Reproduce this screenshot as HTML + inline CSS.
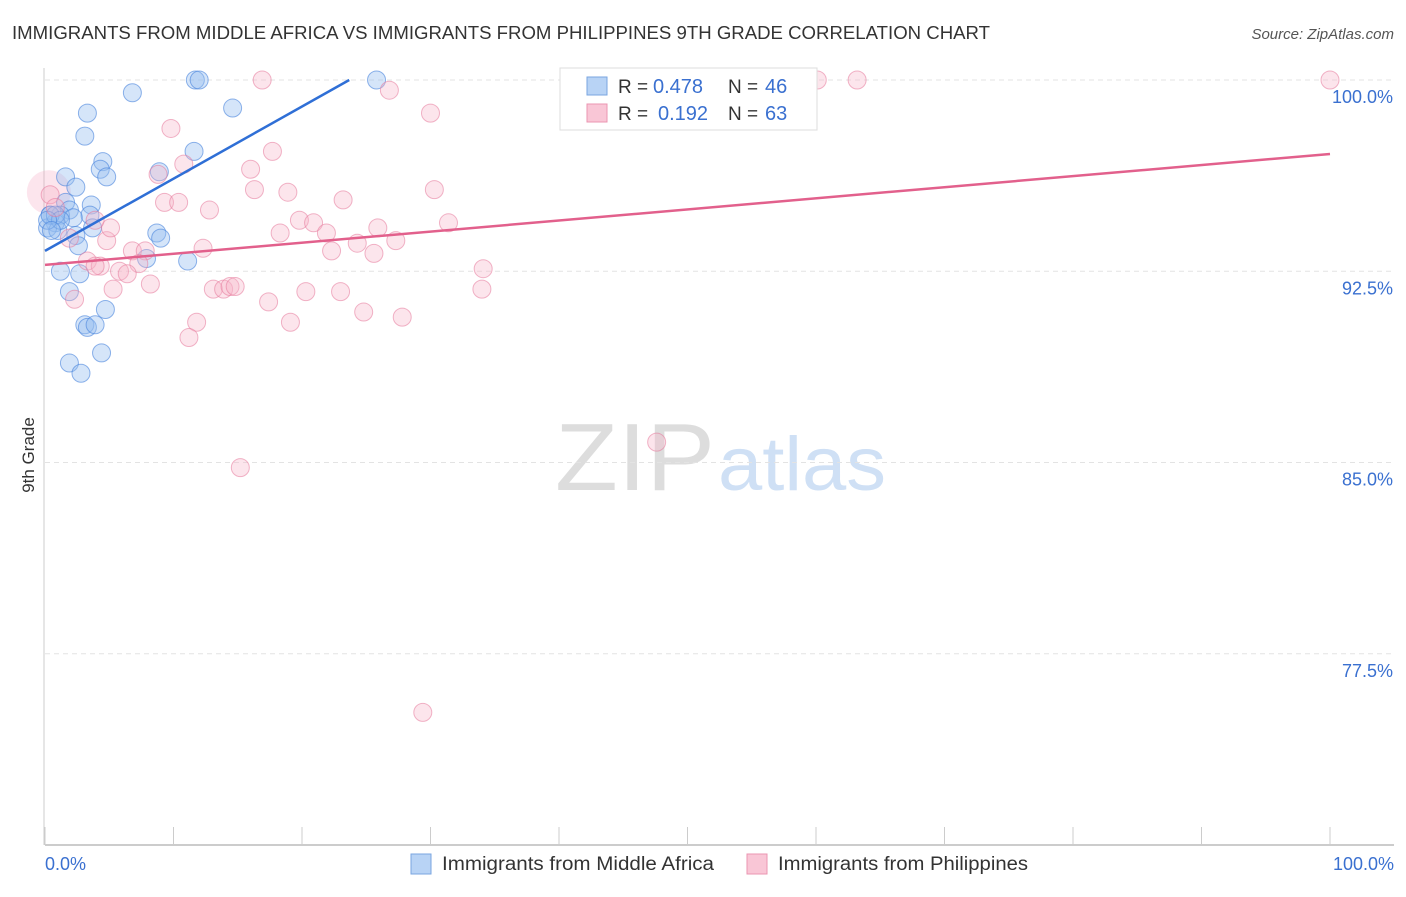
<!DOCTYPE html>
<html><head><meta charset="utf-8"><style>
body{margin:0;background:#fff;font-family:"Liberation Sans",sans-serif}
svg text{font-family:"Liberation Sans",sans-serif}
</style></head><body>
<svg id="c" width="1406" height="892" xmlns="http://www.w3.org/2000/svg">
<text x="12" y="39" font-size="18" fill="#333" textLength="978" lengthAdjust="spacingAndGlyphs">IMMIGRANTS FROM MIDDLE AFRICA VS IMMIGRANTS FROM PHILIPPINES 9TH GRADE CORRELATION CHART</text>
<text x="1394" y="39" font-size="15" fill="#555" font-style="italic" text-anchor="end">Source: ZipAtlas.com</text>
<text x="555" y="490" font-size="96" fill="#ddd" textLength="160" lengthAdjust="spacingAndGlyphs" font-family="Liberation Serif">ZIP</text>
<text x="718" y="490" font-size="76" fill="#cfe0f5" textLength="168" lengthAdjust="spacingAndGlyphs">atlas</text>
<text transform="translate(34,455) rotate(-90)" font-size="17" fill="#333" text-anchor="middle">9th Grade</text>
<g id="grid"></g><g id="pts"></g><g id="lines"></g>
<g>
<rect x="560" y="68" width="257" height="62" fill="#fff" stroke="#ddd"/>
<rect x="587" y="77" width="20" height="18" fill="#b8d3f5" stroke="#7aa6e0"/>
<rect x="587" y="104" width="20" height="18" fill="#f9c6d6" stroke="#eb95b1"/>
<text x="618" y="93" font-size="19" fill="#333">R =</text>
<text x="653" y="93" font-size="20" fill="#3a70d0">0.478</text>
<text x="728" y="93" font-size="19" fill="#333">N =</text>
<text x="765" y="93" font-size="20" fill="#3a70d0">46</text>
<text x="618" y="120" font-size="19" fill="#333">R =</text>
<text x="658" y="120" font-size="20" fill="#3a70d0">0.192</text>
<text x="728" y="120" font-size="19" fill="#333">N =</text>
<text x="765" y="120" font-size="20" fill="#3a70d0">63</text>
</g>
<g>
<rect x="411" y="854" width="20" height="20" fill="#b8d3f5" stroke="#7aa6e0"/>
<text x="442" y="870" font-size="19" fill="#333" textLength="272" lengthAdjust="spacingAndGlyphs">Immigrants from Middle Africa</text>
<rect x="747" y="854" width="20" height="20" fill="#f9c6d6" stroke="#eb95b1"/>
<text x="778" y="870" font-size="19" fill="#333" textLength="250" lengthAdjust="spacingAndGlyphs">Immigrants from Philippines</text>
</g>
</svg>
<script>
const blueX=[11.7,12.0,25.8,6.8,3.3,14.6,3.1,4.5,4.3,4.8,1.6,8.9,11.6,2.4,1.6,3.6,1.9,0.4,1.2,3.5,2.2,0.8,0.2,3.7,1.0,8.7,9.0,2.4,2.6,7.9,11.1,1.2,2.7,1.9,4.7,3.1,3.3,3.9,4.4,1.9,2.8,0.4,0.8,1.2,0.2,0.5];
const blueY=[100,100,100,99.5,98.7,98.9,97.8,96.8,96.5,96.2,96.2,96.4,97.2,95.8,95.2,95.1,94.9,94.7,94.7,94.7,94.6,94.4,94.2,94.2,94.1,94.0,93.8,93.9,93.5,93.0,92.9,92.5,92.4,91.7,91.0,90.4,90.3,90.4,89.3,88.9,88.5,94.7,94.7,94.5,94.5,94.1];
const pinkX=[16.9,60.1,63.2,100,26.8,30.0,9.8,17.7,10.8,8.8,16.0,16.3,18.9,30.3,9.3,10.4,23.2,12.8,19.8,20.9,18.3,21.9,25.9,31.4,27.3,4.8,24.3,22.3,25.6,12.3,6.8,7.8,3.3,4.3,3.9,7.3,5.8,6.4,34.1,8.2,5.3,13.1,13.9,14.4,14.8,17.4,20.3,23.0,34.0,2.3,11.8,19.1,27.8,24.8,11.2,47.6,15.2,29.4,0.4,0.8,1.9,5.1,3.9];
const pinkY=[100,100,100,100,99.6,98.7,98.1,97.2,96.7,96.3,96.5,95.7,95.6,95.7,95.2,95.2,95.3,94.9,94.5,94.4,94.0,94.0,94.2,94.4,93.7,93.7,93.6,93.3,93.2,93.4,93.3,93.3,92.9,92.7,92.7,92.8,92.5,92.4,92.6,92.0,91.8,91.8,91.8,91.9,91.9,91.3,91.7,91.7,91.8,91.4,90.5,90.5,90.7,90.9,89.9,85.8,84.8,75.2,95.5,95.0,93.8,94.2,94.5];
const trendIntercept=[93.3,92.75];
const trendSlope=[0.283,0.0435];
const yTicks=[100,92.5,85,77.5];
const yTickLabels=["100.0%","92.5%","85.0%","77.5%"];
const xLabels=["0.0%","100.0%"];
const X=v=>45+v*12.85, Y=v=>80+(100-v)*25.5;
const NS="http://www.w3.org/2000/svg";
function mk(t,a,p){const e=document.createElementNS(NS,t);for(const k in a)e.setAttribute(k,a[k]);p.appendChild(e);return e;}
const g=document.getElementById('grid');
yTicks.forEach((t,i)=>{
 const l=mk('line',{x1:45,x2:1394,y1:Y(t),y2:Y(t),stroke:'#e3e3e3','stroke-dasharray':'5,4'},g);
 
 
 const tx=mk('text',{x:1393,y:Y(t)+23,'font-size':18,fill:'#3a70d0','text-anchor':'end'},g);
 tx.textContent=yTickLabels[i];
 
 
});
const ax=mk('line',{x1:45,x2:1394,y1:845,y2:845,stroke:'#bbb','stroke-width':1.5},g);


const ay=mk('line',{x1:44,x2:44,y1:68,y2:845,stroke:'#ccc'},g);


for(let i=0;i<=10;i++){const t=mk('line',{x1:X(i*10),x2:X(i*10),y1:827,y2:845,stroke:'#ccc'},g);
 
 }
const xl0=mk('text',{x:45,y:870,'font-size':18,fill:'#3a70d0'},g);xl0.textContent=xLabels[0];


const xl1=mk('text',{x:1394,y:870,'font-size':18,fill:'#3a70d0','text-anchor':'end'},g);xl1.textContent=xLabels[1];


const p=document.getElementById('pts');
const big=mk('circle',{cx:X(0.3),cy:Y(95.6),r:22,fill:'rgba(246,170,195,0.3)'},p);


blueX.forEach((v,i)=>{const c=mk('circle',{cx:X(v),cy:Y(blueY[i]),r:9,fill:'rgba(150,190,240,0.4)',stroke:'rgba(70,130,220,0.6)'},p);
 
 });
pinkX.forEach((v,i)=>{const c=mk('circle',{cx:X(v),cy:Y(pinkY[i]),r:9,fill:'rgba(246,180,200,0.35)',stroke:'rgba(230,120,155,0.55)'},p);
 
 });
const L=document.getElementById('lines');
let bEnd=Math.min(100,(100-trendIntercept[0])/trendSlope[0]);
const bl=mk('line',{x1:X(0),y1:Y(trendIntercept[0]),x2:X(bEnd),y2:Y(trendIntercept[0]+trendSlope[0]*bEnd),stroke:'#2f6fd6','stroke-width':2.5},L);


const pl=mk('line',{x1:X(0),y1:Y(trendIntercept[1]),x2:X(100),y2:Y(trendIntercept[1]+trendSlope[1]*100),stroke:'#e2608c','stroke-width':2.5},L);


</script>
</body></html>
